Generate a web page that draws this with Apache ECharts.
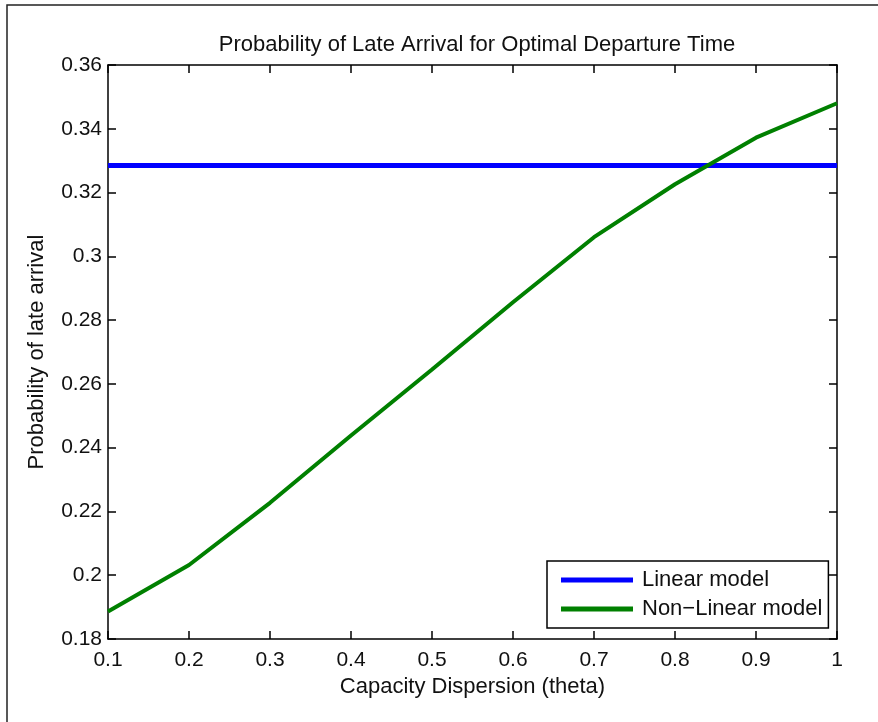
<!DOCTYPE html>
<html>
<head>
<meta charset="utf-8">
<script src="https://cdn.jsdelivr.net/npm/echarts@6/dist/echarts.min.js"></script>
<style>
html,body{margin:0;padding:0;background:#fff;}
#chart{width:878px;height:722px;}
</style>
</head>
<body>
<div id="chart"></div>
<script>
const thetaValues = [0.1, 0.2, 0.3, 0.4, 0.5, 0.6, 0.7, 0.8, 0.9, 1.0];
const linearModel = [0.3285, 0.3285, 0.3285, 0.3285, 0.3285, 0.3285, 0.3285, 0.3285, 0.3285, 0.3285];
const nonLinearModel = [0.1886, 0.2032, 0.2227, 0.2438, 0.2645, 0.2856, 0.3060, 0.3226, 0.3372, 0.3480];
const seriesNames = ['Linear model', 'Non\u2212Linear model'];

const FONT = '"Liberation Sans", Arial, sans-serif';
const TXT = '#111';

function pairs(xs, ys) { return xs.map((x, i) => [x, ys[i]]); }

const chart = echarts.init(document.getElementById('chart'));
const axisCommon = {
  axisLine: { show: true, onZero: false, lineStyle: { color: '#000', width: 1.5 } },
  axisTick: { show: true, inside: true, length: 8, lineStyle: { color: '#000', width: 1.5 } },
  splitLine: { show: false }
};
chart.setOption({
  backgroundColor: '#fff',
  animation: false,
  title: {
    text: 'Probability of Late Arrival for Optimal Departure Time',
    left: 472, top: 29, textAlign: 'center',
    textStyle: { fontFamily: FONT, fontSize: 22, fontWeight: 'normal', color: TXT }
  },
  graphic: [{
    type: 'rect', shape: { x: 7, y: 5, width: 900, height: 740 },
    style: { fill: null, stroke: '#222', lineWidth: 1.5 }, silent: true, z: -1
  }],
  grid: { left: 108, right: 41, top: 65, bottom: 83 },
  legend: {
    orient: 'vertical', left: 547, top: 561,
    data: seriesNames,
    icon: 'rect', itemWidth: 72, itemHeight: 5, itemGap: 7,
    padding: [8, 6, 8, 14],
    borderColor: '#000', borderWidth: 1.5, backgroundColor: '#fff',
    textStyle: { fontFamily: FONT, fontSize: 22, color: TXT, padding: [0, 0, 0, 4] }
  },
  xAxis: [
    Object.assign({
      type: 'value', min: 0.1, max: 1, interval: 0.1, position: 'bottom',
      name: 'Capacity Dispersion (theta)', nameLocation: 'middle', nameGap: 37,
      nameTextStyle: { fontFamily: FONT, fontSize: 22, color: TXT },
      axisLabel: { fontFamily: FONT, fontSize: 21, color: TXT, margin: 11,
        formatter: v => String(Math.round(v * 10) / 10) }
    }, axisCommon),
    Object.assign({
      type: 'value', min: 0.1, max: 1, interval: 0.1, position: 'top',
      axisLabel: { show: false }
    }, axisCommon)
  ],
  yAxis: [
    Object.assign({
      type: 'value', min: 0.18, max: 0.36, interval: 0.02, position: 'left',
      name: 'Probability of late arrival', nameLocation: 'middle', nameGap: 60, nameRotate: 90,
      nameTextStyle: { fontFamily: FONT, fontSize: 22, color: TXT },
      axisLabel: { fontFamily: FONT, fontSize: 21, color: TXT, margin: 6,
        formatter: v => String(Math.round(v * 100) / 100) }
    }, axisCommon),
    Object.assign({
      type: 'value', min: 0.18, max: 0.36, interval: 0.02, position: 'right',
      axisLabel: { show: false }
    }, axisCommon)
  ],
  series: [
    {
      name: seriesNames[0], type: 'line', xAxisIndex: 0, yAxisIndex: 0,
      data: pairs(thetaValues, linearModel), showSymbol: false, symbol: 'none',
      itemStyle: { color: '#0000ff' }, lineStyle: { color: '#0000ff', width: 5 }
    },
    {
      name: seriesNames[1], type: 'line', xAxisIndex: 0, yAxisIndex: 0,
      data: pairs(thetaValues, nonLinearModel), showSymbol: false, symbol: 'none',
      itemStyle: { color: '#008000' }, lineStyle: { color: '#008000', width: 4 }
    }
  ]
});
</script>
</body>
</html>
